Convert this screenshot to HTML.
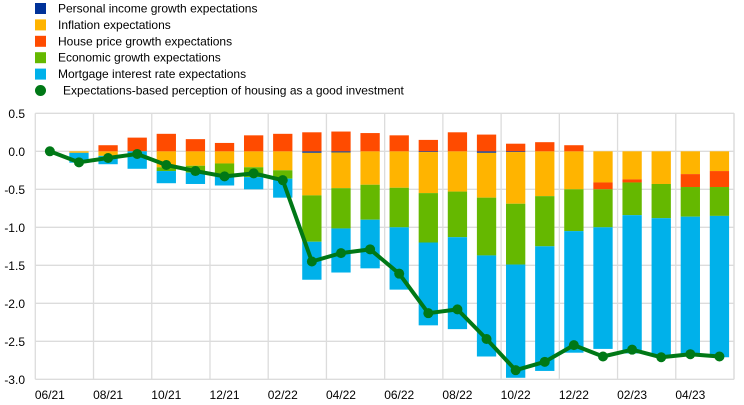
<!DOCTYPE html>
<html><head><meta charset="utf-8"><style>
body{margin:0;background:#fff;}
svg{display:block;font-family:"Liberation Sans",Arial,sans-serif;}
</style></head><body>
<svg id="chart" width="744" height="405" viewBox="0 0 744 405"></svg>
<script>
const categories=["06/21","07/21","08/21","09/21","10/21","11/21","12/21","01/22","02/22","03/22","04/22","05/22","06/22","07/22","08/22","09/22","10/22","11/22","12/22","01/23","02/23","03/23","04/23","05/23"];
const tickLabels=["0.5","0.0","-0.5","-1.0","-1.5","-2.0","-2.5","-3.0"];
const tickValues=[0.5,0,-0.5,-1,-1.5,-2,-2.5,-3];
const personalIncome=[0,0,0,0,0,0,0,0,0,-0.02,-0.015,0,0,-0.01,0,-0.02,-0.01,0,0,0,0,0,0,0];
const inflation=[0,-0.02,-0.06,0,-0.21,-0.19,-0.16,-0.21,-0.25,-0.56,-0.47,-0.44,-0.48,-0.54,-0.53,-0.59,-0.68,-0.59,-0.50,-0.41,-0.37,-0.43,-0.30,-0.26];
const housePrice=[0,0,0.08,0.18,0.23,0.16,0.11,0.21,0.23,0.25,0.26,0.24,0.21,0.15,0.25,0.22,0.10,0.12,0.08,-0.09,-0.04,0,-0.17,-0.21];
const economic=[0,0,0,0,-0.05,-0.09,-0.17,-0.13,-0.11,-0.61,-0.53,-0.46,-0.52,-0.65,-0.60,-0.76,-0.80,-0.66,-0.55,-0.50,-0.43,-0.45,-0.39,-0.38];
const mortgage=[0,-0.13,-0.11,-0.23,-0.16,-0.15,-0.12,-0.16,-0.25,-0.50,-0.58,-0.64,-0.82,-1.09,-1.21,-1.33,-1.49,-1.64,-1.60,-1.60,-1.82,-1.80,-1.81,-1.86];
const perception=[0,-0.145,-0.088,-0.035,-0.18,-0.26,-0.33,-0.29,-0.38,-1.45,-1.34,-1.29,-1.61,-2.13,-2.08,-2.47,-2.88,-2.77,-2.55,-2.70,-2.61,-2.71,-2.67,-2.70];

const svg=document.getElementById('chart');
const NS='http://www.w3.org/2000/svg';
const L=35.3,R=734,T=113.3,B=379.3,vmax=0.5,vmin=-3;
const band=(R-L)/categories.length, bw=19.3;
function y(v){return T+(vmax-v)/(vmax-vmin)*(B-T);}
function xc(i){return L+band*(i+0.5);}
function mk(tag,attrs,parent){const e=document.createElementNS(NS,tag);for(const k in attrs)e.setAttribute(k,attrs[k]);(parent||svg).appendChild(e);return e;}

// grid
const grid=mk('g',{});


tickValues.forEach((v,i)=>{
  mk('line',{x1:L,x2:R,y1:y(v),y2:y(v),stroke:'#dcdcdc','stroke-width':1.3},grid);
  const t=mk('text',{x:25,y:y(v)+4.5,'text-anchor':'end','font-size':12,fill:'#000'});
  t.textContent=tickLabels[i];
  
  
});
for(let i=0;i<=categories.length;i+=2){
  mk('line',{x1:L+band*i,x2:L+band*i,y1:T,y2:B,stroke:'#dcdcdc','stroke-width':1.3},grid);
}
mk('line',{x1:R,x2:R,y1:T,y2:B,stroke:'#dcdcdc','stroke-width':1.3},grid);
categories.forEach((c,i)=>{
  if(i%2)return;
  const t=mk('text',{x:xc(i),y:399,'text-anchor':'middle','font-size':12,fill:'#000'});
  t.textContent=c;
  
  
});

// stacked bars
const series=[
 {d:personalIncome,c:'#003299',n:'personal-income'},
 {d:inflation,c:'#ffb400',n:'inflation'},
 {d:housePrice,c:'#ff4b00',n:'house-price'},
 {d:economic,c:'#65b800',n:'economic-growth'},
 {d:mortgage,c:'#00b1ea',n:'mortgage-rate'}];
categories.forEach((c,i)=>{
  let pos=0,neg=0;
  series.forEach(s=>{
    const v=s.d[i]; if(!v)return;
    let a,b;
    if(v>0){a=pos;b=pos+v;pos=b;}else{a=neg;b=neg+v;neg=b;}
    const y1=y(Math.max(a,b)),y2=y(Math.min(a,b));
    const r=mk('rect',{x:xc(i)-bw/2,y:y1,width:bw,height:Math.max(y2-y1,0.8),fill:s.c});
    
    
  });
});

// line
const pts=perception.map((v,i)=>xc(i)+','+y(v)).join(' ');
const pl=mk('polyline',{points:pts,fill:'none',stroke:'#007816','stroke-width':4,'stroke-linejoin':'round'});


perception.forEach((v,i)=>{
  const p=mk('circle',{cx:xc(i),cy:y(v),r:5,fill:'#007816'});
  
  
});

// legend
const legendItems=[
 ['Personal income growth expectations','#003299','sq'],
 ['Inflation expectations','#ffb400','sq'],
 ['House price growth expectations','#ff4b00','sq'],
 ['Economic growth expectations','#65b800','sq'],
 ['Mortgage interest rate expectations','#00b1ea','sq'],
 ['Expectations-based perception of housing as a good investment','#007816','ci']];
legendItems.forEach((it,i)=>{
  const cy=8+i*16.4;
  const g=mk('g',{});
  
  
  if(it[2]==='sq')mk('rect',{x:35,y:cy-5,width:11,height:11,fill:it[1]},g);
  else mk('circle',{cx:40.5,cy:cy+0.5,r:5.5,fill:it[1]},g);
  const t=mk('text',{x:it[2]==='sq'?58:63,y:cy+4.5,'font-size':12,fill:'#000'},g);
  t.textContent=it[0];
});
</script>
</body></html>
